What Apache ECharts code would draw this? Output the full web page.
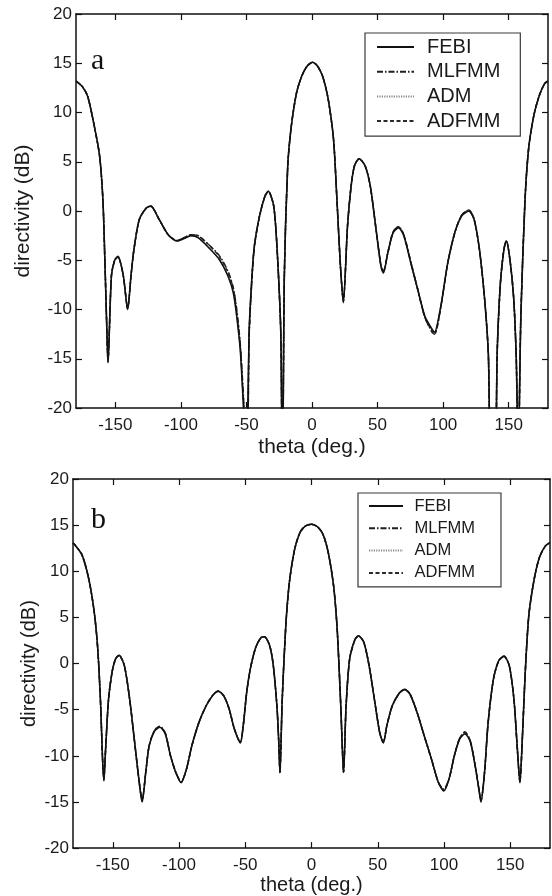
<!DOCTYPE html>
<html>
<head>
<meta charset="utf-8">
<script src="https://cdn.jsdelivr.net/npm/echarts@6/dist/echarts.min.js"></script>
<style>
  html, body { margin: 0; padding: 0; background: #fff; }
  #chart { width: 552px; height: 896px; }
</style>
</head>
<body>
<div id="chart"></div>
<script>
// tick labels
var thetaTicks = [-150, -100, -50, 0, 50, 100, 150];
var legendNames = ['FEBI', 'MLFMM', 'ADM', 'ADFMM'];

// panel a
var thetaA = [-180, -175, -171, -166, -162, -159.5, -158, -156.7, -155.6, -153, -150.5, -148, -144, -140.6, -138, -135.8,
    -131.8, -126.4, -123, -116.4, -109.7, -103, -97.6, -92.3, -86.9, -78.9, -70.8, -64.1, -60, -57.4, -54.7, -52.6,
    -50.5, -49.2, -48, -46.1, -44, -40, -35.9, -33.3, -29.2, -26.6, -23.8, -22.5, -21.2, -18.5, -15.8, -11.8,
    -7.8, -3.8, 0.5, 4.3, 8.3, 12.3, 16.4, 19, 21.7, 23.9, 27.1, 29.8, 32.4, 35.9, 40.5, 44.5, 48.5, 52.6,
    54.4, 57.9, 61.9, 66, 70, 75.4, 80.7, 86.1, 91.5, 93.5, 98.2, 103.5, 108.9, 114.2, 119.6, 123.6, 127.7,
    131.7, 134.5, 136.5, 139.5, 141.3, 143.7, 146.4, 148.3, 151.3, 153.9, 155.8, 157.3, 159.3, 162.5, 165.2,
    169.2, 173.3, 177.3, 180];
var febiA = [13.2, 12.6, 11.6, 8.6, 5.6, 1.2, -4.9, -11, -15.4, -6.6, -5.0, -4.6, -6.5, -10.0, -6.5, -3.9,
    -0.9, 0.3, 0.5, -0.9, -2.4, -3.05, -2.8, -2.5, -2.7, -3.7, -4.9, -6.6, -8.3, -10.7, -14.1, -19,
    -24, -22, -12.4, -7.3, -3.6, -0.5, 1.5, 2.0, 0.5, -3.9, -12.4, -30, -7.3, 4.6, 8.6, 12.0,
    13.7, 14.7, 15.1, 14.7, 13.6, 11.4, 7.3, 1.2, -5.6, -9.3, -1.5, 2.5, 4.6, 5.3, 4.6, 2.5, -1.5, -5.6,
    -6.3, -4.2, -2.2, -1.7, -2.5, -5.3, -8.0, -10.7, -12.0, -12.3, -9.7, -5.3, -2.2, -0.5, 0.0, -0.85, -3.9,
    -9.0, -14.5, -26, -26, -14.1, -7.3, -3.9, -3.05, -5.3, -9.0, -15, -25, -10.7, 1.2, 6.3,
    9.7, 11.7, 12.9, 13.2];
var mlfmmA = [13.2, 12.6, 11.6, 8.6, 5.6, 1.2, -4.9, -11, -15.2, -6.6, -5.0, -4.7, -6.5, -9.9, -6.5, -3.9,
    -0.9, 0.3, 0.5, -0.9, -2.4, -3.0, -2.7, -2.4, -2.5, -3.4, -4.5, -6.1, -7.8, -10.0, -13.5, -18,
    -23, -24, -13, -7.6, -3.7, -0.5, 1.5, 2.0, 0.5, -3.9, -12.4, -30, -7.3, 4.6, 8.6, 12.0,
    13.7, 14.7, 15.1, 14.7, 13.6, 11.4, 7.3, 1.2, -5.6, -9.1, -1.5, 2.5, 4.6, 5.3, 4.6, 2.5, -1.5, -5.6,
    -6.1, -4.2, -2.1, -1.6, -2.4, -5.2, -8.0, -10.8, -12.3, -12.5, -9.8, -5.3, -2.2, -0.4, 0.1, -0.8, -3.9,
    -9.0, -14.5, -26, -26, -14.1, -7.3, -3.8, -3.0, -5.3, -9.0, -15, -25, -10.7, 1.2, 6.3,
    9.7, 11.7, 12.9, 13.2];
var admA = [13.2, 12.6, 11.6, 8.6, 5.6, 1.2, -4.9, -11, -15.4, -6.6, -5.0, -4.6, -6.5, -10.0, -6.5, -3.9,
    -0.9, 0.3, 0.5, -0.9, -2.4, -3.05, -2.8, -2.5, -2.7, -3.7, -4.9, -6.6, -8.3, -10.7, -14.1, -19,
    -24, -22, -12.4, -7.3, -3.6, -0.5, 1.5, 2.0, 0.5, -3.9, -12.4, -30, -7.3, 4.6, 8.6, 12.0,
    13.7, 14.7, 15.1, 14.7, 13.6, 11.4, 7.3, 1.2, -5.6, -9.3, -1.5, 2.5, 4.6, 5.3, 4.6, 2.5, -1.5, -5.6,
    -6.3, -4.2, -2.2, -1.7, -2.5, -5.3, -8.0, -10.7, -12.0, -12.3, -9.7, -5.3, -2.2, -0.5, 0.0, -0.85, -3.9,
    -9.0, -14.5, -26, -26, -14.1, -7.3, -3.9, -3.05, -5.3, -9.0, -15, -25, -10.7, 1.2, 6.3,
    9.7, 11.7, 12.9, 13.2];
var adfmmA = [13.2, 12.6, 11.6, 8.6, 5.6, 1.2, -4.9, -11, -15.3, -6.6, -5.0, -4.7, -6.5, -9.9, -6.5, -3.9,
    -0.9, 0.3, 0.5, -0.9, -2.4, -3.0, -2.7, -2.4, -2.5, -3.4, -4.6, -6.2, -7.9, -10.2, -13.7, -18.5,
    -23, -24, -12.8, -7.5, -3.6, -0.5, 1.5, 2.0, 0.5, -3.9, -12.4, -30, -7.3, 4.6, 8.6, 12.0,
    13.7, 14.7, 15.1, 14.7, 13.6, 11.4, 7.3, 1.2, -5.6, -9.2, -1.5, 2.5, 4.6, 5.3, 4.6, 2.5, -1.5, -5.6,
    -6.2, -4.2, -2.1, -1.6, -2.4, -5.2, -8.0, -10.8, -12.2, -12.5, -9.8, -5.3, -2.2, -0.4, 0.1, -0.8, -3.9,
    -9.0, -14.5, -26, -26, -14.1, -7.3, -3.8, -3.0, -5.3, -9.0, -15, -25, -10.7, 1.2, 6.3,
    9.7, 11.7, 12.9, 13.2];

// panel b
var thetaB = [-180, -173.3, -168, -163.9, -161.3, -159.1, -157.8, -156.7, -155.4, -153.2, -150.6, -147.9, -145.2,
    -141.2, -137.2, -133.2, -130, -127.8, -125.1, -122.5, -118.4, -114.4, -110.4, -106.4, -102.4, -98.4, -94.3,
    -90.3, -85, -79.6, -74.3, -70.3, -66.2, -62.2, -58.2, -53.7, -51.5, -48.9, -46.2, -42.2, -38.2, -35.5,
    -31.5, -28.8, -26.1, -24.8, -23.8, -22.1, -19.4, -16.7, -12.7, -8.7, -4.7, 0, 4.7, 8.7, 12.7, 16.7, 19.4,
    22.1, 24.2, 26.1, 28.8, 32.8, 35.5, 39.5, 43.5, 47.5, 51.5, 54.2, 56.9, 60.9, 66.3, 70.3, 74.3, 79.7, 85,
    90.4, 95.8, 99.8, 103.8, 107.8, 111.8, 115.8, 119.9, 123.9, 126.6, 127.9, 130.6, 133.3, 137.3, 141.3,
    145.3, 149.3, 152.8, 155.2, 157.3, 159.1, 161.3, 164, 168, 172, 176.3, 180];
var febiB = [13.1, 11.8, 9.1, 5.5, 1.55, -4.6, -10, -12.7, -9.3, -3.9, -1.0, 0.5, 0.9,
    -0.25, -3.9, -8.9, -12.9, -15.0, -11.8, -8.9, -7.3, -6.9, -7.6, -10, -11.8, -12.9, -11.4,
    -8.9, -6.4, -4.6, -3.4, -3.0, -3.5, -4.9, -7.1, -8.6, -6.7, -3.1, -0.6, 1.7, 2.8, 2.9,
    1.9, -0.25, -4.6, -8.2, -11.8, -3.9, 4.1, 8.8, 12.4, 14.2, 14.9, 15.1, 14.8, 14.0, 12.0, 8.4, 3.7,
    -4.6, -11.8, -4.6, 0.5, 2.6, 3.0, 2.3, -0.25, -3.9, -7.5, -8.6, -6.7, -4.6, -3.2, -2.8, -3.3, -5.3, -7.8,
    -10.3, -12.9, -13.8, -12.5, -10.0, -8.2, -7.6, -8.5, -11.4, -13.9, -15.0, -11.8, -6.4, -1.7, 0.3,
    0.8, -0.25, -3.9, -8.9, -12.9, -8.2, -1.0, 5.2, 9.1, 11.5, 12.7, 13.1];
var mlfmmB = [13.1, 11.8, 9.1, 5.5, 1.55, -4.6, -10, -12.5, -9.3, -3.9, -1.0, 0.5, 0.9,
    -0.25, -3.9, -8.9, -12.8, -14.8, -11.8, -8.9, -7.2, -6.8, -7.5, -10, -11.8, -12.8, -11.4,
    -8.9, -6.4, -4.6, -3.4, -2.95, -3.5, -4.9, -7.1, -8.5, -6.7, -3.1, -0.6, 1.7, 2.8, 2.9,
    1.9, -0.25, -4.6, -8.2, -11.8, -3.9, 4.1, 8.8, 12.4, 14.2, 14.9, 15.1, 14.8, 14.0, 12.0, 8.4, 3.7,
    -4.6, -11.8, -4.6, 0.5, 2.6, 3.0, 2.3, -0.25, -3.9, -7.5, -8.5, -6.7, -4.6, -3.2, -2.8, -3.3, -5.3, -7.8,
    -10.3, -12.9, -13.6, -12.5, -10.0, -8.1, -7.4, -8.4, -11.4, -13.8, -14.8, -11.8, -6.4, -1.7, 0.3,
    0.8, -0.25, -3.9, -8.9, -12.8, -8.2, -1.0, 5.2, 9.1, 11.5, 12.7, 13.1];
var admB = [13.1, 11.8, 9.1, 5.5, 1.55, -4.6, -10, -12.7, -9.3, -3.9, -1.0, 0.5, 0.9,
    -0.25, -3.9, -8.9, -12.9, -15.0, -11.8, -8.9, -7.3, -6.9, -7.6, -10, -11.8, -12.9, -11.4,
    -8.9, -6.4, -4.6, -3.4, -3.0, -3.5, -4.9, -7.1, -8.6, -6.7, -3.1, -0.6, 1.7, 2.8, 2.9,
    1.9, -0.25, -4.6, -8.2, -11.8, -3.9, 4.1, 8.8, 12.4, 14.2, 14.9, 15.1, 14.8, 14.0, 12.0, 8.4, 3.7,
    -4.6, -11.8, -4.6, 0.5, 2.6, 3.0, 2.3, -0.25, -3.9, -7.5, -8.6, -6.7, -4.6, -3.2, -2.8, -3.3, -5.3, -7.8,
    -10.3, -12.9, -13.8, -12.5, -10.0, -8.2, -7.6, -8.5, -11.4, -13.9, -15.0, -11.8, -6.4, -1.7, 0.3,
    0.8, -0.25, -3.9, -8.9, -12.9, -8.2, -1.0, 5.2, 9.1, 11.5, 12.7, 13.1];
var adfmmB = [13.1, 11.8, 9.1, 5.5, 1.55, -4.6, -10, -12.6, -9.3, -3.9, -1.0, 0.5, 0.9,
    -0.25, -3.9, -8.9, -12.9, -14.9, -11.8, -8.9, -7.2, -6.85, -7.5, -10, -11.8, -12.85, -11.4,
    -8.9, -6.4, -4.6, -3.4, -3.0, -3.5, -4.9, -7.1, -8.55, -6.7, -3.1, -0.6, 1.7, 2.8, 2.9,
    1.9, -0.25, -4.6, -8.2, -11.8, -3.9, 4.1, 8.8, 12.4, 14.2, 14.9, 15.1, 14.8, 14.0, 12.0, 8.4, 3.7,
    -4.6, -11.8, -4.6, 0.5, 2.6, 3.0, 2.3, -0.25, -3.9, -7.5, -8.55, -6.7, -4.6, -3.2, -2.8, -3.3, -5.3, -7.8,
    -10.3, -12.9, -13.7, -12.5, -10.0, -8.1, -7.5, -8.4, -11.4, -13.8, -14.9, -11.8, -6.4, -1.7, 0.3,
    0.8, -0.25, -3.9, -8.9, -12.85, -8.2, -1.0, 5.2, 9.1, 11.5, 12.7, 13.1];

function pairs(xs, ys) {
    var out = [];
    for (var i = 0; i < xs.length; i++) {
        out.push([xs[i], ys[i]]);
    }
    return out;
}

var textColor = '#1a1a1a';
var lineColor = '#111';
var sans = 'Liberation Sans, Arial';

var styles = {
    FEBI: { color: '#111', type: 'solid', width: 1.6 },
    MLFMM: { color: '#1e1e1e', type: [6, 2, 1.5, 2], width: 1.5 },
    ADM: { color: '#888', type: [1.2, 1.2], width: 1.3 },
    ADFMM: { color: '#2a2a2a', type: [4, 2.5], width: 1.5 }
};

function makeSeries(name, xs, ys, idx) {
    return {
        name: name,
        type: 'line',
        xAxisIndex: idx,
        yAxisIndex: idx,
        showSymbol: false,
        symbol: 'none',
        smooth: 0.25,
        animation: false,
        color: styles[name].color,
        lineStyle: styles[name],
        z: name == 'FEBI' ? 3 : 2,
        data: pairs(xs, ys)
    };
}

var series = [
    makeSeries('ADM', thetaA, admA, 0),
    makeSeries('ADFMM', thetaA, adfmmA, 0),
    makeSeries('MLFMM', thetaA, mlfmmA, 0),
    makeSeries('FEBI', thetaA, febiA, 0),
    makeSeries('ADM', thetaB, admB, 1),
    makeSeries('ADFMM', thetaB, adfmmB, 1),
    makeSeries('MLFMM', thetaB, mlfmmB, 1),
    makeSeries('FEBI', thetaB, febiB, 1)
];

function xAxisFor(grid, pos, showLabels, nameGap, nameSize) {
    return {
        type: 'value',
        gridIndex: grid,
        position: pos,
        min: -180,
        max: 180,
        name: showLabels ? 'theta (deg.)' : '',
        nameLocation: 'middle',
        nameGap: nameGap,
        nameTextStyle: { color: textColor, fontSize: nameSize, fontFamily: sans },
        axisLine: { show: true, onZero: false, lineStyle: { color: lineColor, width: 1.5 } },
        axisTick: { show: true, inside: true, length: 6, customValues: thetaTicks, lineStyle: { color: lineColor, width: 1.2 } },
        axisLabel: {
            show: showLabels,
            customValues: thetaTicks,
            margin: 9,
            color: textColor,
            fontSize: 17,
            fontFamily: sans
        },
        splitLine: { show: false }
    };
}

function yAxisFor(grid, pos, showLabels, nameGap, nameSize) {
    return {
        type: 'value',
        gridIndex: grid,
        position: pos,
        min: -20,
        max: 20,
        interval: 5,
        name: showLabels ? 'directivity (dB)' : '',
        nameLocation: 'middle',
        nameRotate: 90,
        nameGap: nameGap,
        nameMoveOverlap: false,
        nameTextStyle: { color: textColor, fontSize: nameSize, fontFamily: sans },
        axisLine: { show: true, onZero: false, lineStyle: { color: lineColor, width: 1.5 } },
        axisTick: { show: true, inside: true, length: 6, lineStyle: { color: lineColor, width: 1.2 } },
        axisLabel: {
            show: showLabels,
            margin: 4,
            color: textColor,
            fontSize: 17,
            fontFamily: sans
        },
        splitLine: { show: false }
    };
}

function legendFor(left, top, fontSize, itemWidth, itemGap, padding, textGap) {
    return {
        data: legendNames,
        orient: 'vertical',
        left: left,
        top: top,
        itemWidth: itemWidth,
        itemHeight: 14,
        itemGap: itemGap,
        padding: padding,
        borderColor: '#3a3a3a',
        borderWidth: 1.2,
        borderRadius: 0,
        backgroundColor: '#fff',
        selectedMode: false,
        itemStyle: { opacity: 0 },
        textStyle: {
            color: textColor,
            fontSize: fontSize,
            fontFamily: sans,
            padding: [0, 0, 0, textGap]
        }
    };
}

var chart = echarts.init(document.getElementById('chart'));
chart.setOption({
    animation: false,
    backgroundColor: '#fff',
    grid: [
        { left: 76, top: 14, width: 472, height: 394 },
        { left: 73, top: 479, width: 477, height: 370 }
    ],
    xAxis: [
        xAxisFor(0, 'bottom', true, 29, 21),
        xAxisFor(1, 'bottom', true, 20, 20),
        xAxisFor(0, 'top', false, 0, 16),
        xAxisFor(1, 'top', false, 0, 16)
    ],
    yAxis: [
        yAxisFor(0, 'left', true, 42, 21),
        yAxisFor(1, 'left', true, 34, 20),
        yAxisFor(0, 'right', false, 0, 16),
        yAxisFor(1, 'right', false, 0, 16)
    ],
    legend: [
        legendFor(365, 33, 20, 37, 4.7, [4, 20, 5, 11], 8),
        legendFor(358, 493, 16.5, 34, 5.3, [4.5, 26, 5.5, 10], 6.5)
    ],
    graphic: [
        { type: 'text', left: 91, top: 46, style: { text: 'a', fontSize: 30, fontFamily: 'Liberation Serif, Times New Roman', fill: '#111' } },
        { type: 'text', left: 91, top: 505, style: { text: 'b', fontSize: 30, fontFamily: 'Liberation Serif, Times New Roman', fill: '#111' } }
    ],
    series: series
});
</script>
</body>
</html>
